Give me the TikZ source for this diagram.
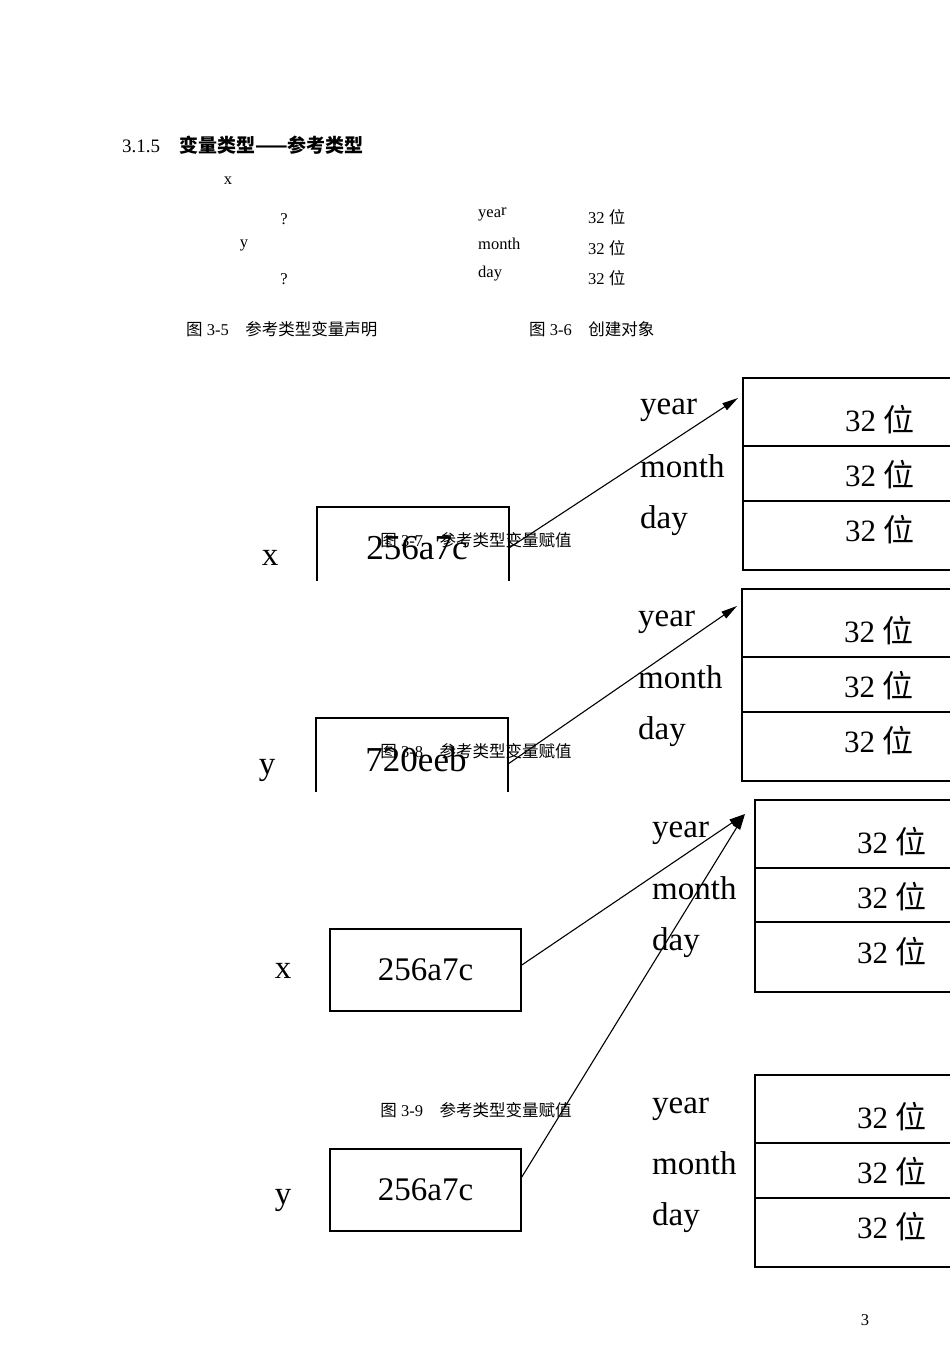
\documentclass[tikz,border=0pt]{standalone}
\usepackage{fontspec}
\setmainfont{Liberation Serif}
\newfontfamily\cjk{Noto Sans CJK SC}
\usetikzlibrary{arrows.meta}
\begin{document}
\begin{tikzpicture}[x=1pt,y=-1pt,
  small/.style={font=\fontsize{16.5}{16.5}\selectfont,inner sep=0pt},
  big/.style={font=\fontsize{33}{33}\selectfont,inner sep=0pt},
  val/.style={font=\fontsize{35}{35}\selectfont,inner sep=0pt},
  bigc/.style={font=\fontsize{31}{31}\selectfont,inner sep=0pt},
  edge/.style={line width=1.6pt},
  ptr/.style={line width=1.1pt,-{Triangle[length=16pt,width=8pt]}}]
\path[use as bounding box] (0,0) rectangle (950,1350);
\fill[white] (0,0) rectangle (950,1350);
\clip (0,0) rectangle (950,1350);
% header
\node[small,anchor=west,font=\fontsize{19}{19}\selectfont] (h) at (122,145) {3.1.5\hspace{1em}{\cjk\bfseries 变量类型——参考类型}};
\node[small] (x0) at (228,181) {x};
\node[small] (q1) at (284,219) {?};
\node[small] (y0) at (244,245) {y};
\node[small] (q2) at (284,279) {?};
\node[small,anchor=west] (yr0) at (478,214) {yea\raisebox{2pt}{r}};
\node[small,anchor=west] (mo0) at (478,244) {month};
\node[small,anchor=west] (dy0) at (478,274) {day};
\foreach \yy/\n in {217/a,248/b,278/c}
  \node[small,anchor=west] (b\n) at (588,\yy) {32 {\cjk 位}};
\node[small,anchor=west] (c5) at (186,329) {{\cjk 图} 3-5\hspace{1em}{\cjk 参考类型变量声明}};
\node[small,anchor=west] (c6) at (529,329) {{\cjk 图} 3-6\hspace{1em}{\cjk 创建对象}};
% ---------- figure 3-7
\draw[edge] (317,581) -- (317,507) -- (509,507) -- (509,581);
\coordinate (bx1) at (509,548);
\node[val] (v1) at (417,548) {256a7c};
\node[big] (lx1) at (270,558) {x};
\draw[edge] (743,378) rectangle (955,570);
\draw[edge] (743,446) -- (955,446) (743,501) -- (955,501);
\node[big,anchor=west] (ly1) at (640,410) {year};
\node[big,anchor=west] (lm1) at (640,466) {month};
\node[big,anchor=west] (ld1) at (640,521) {day};
\foreach \yy/\n in {420/a,475/b,530/c}
  \node[bigc] (t1\n) at (880,\yy) {32 {\cjk 位}};
\coordinate (tg1) at (738,398);
\draw[ptr] (bx1) -- (tg1);
% ---------- figure 3-8
\draw[edge] (316,792) -- (316,718) -- (508,718) -- (508,792);
\coordinate (bx2) at (508,764);
\node[val] (v2) at (416,760) {720eeb};
\node[big] (lx2) at (267,770) {y};
\draw[edge] (742,589) rectangle (955,781);
\draw[edge] (742,657) -- (955,657) (742,712) -- (955,712);
\node[big,anchor=west] (ly2) at (638,622) {year};
\node[big,anchor=west] (lm2) at (638,677) {month};
\node[big,anchor=west] (ld2) at (638,732) {day};
\foreach \yy/\n in {631/a,686/b,741/c}
  \node[bigc] (t2\n) at (879,\yy) {32 {\cjk 位}};
\coordinate (tg2) at (737,606);
\draw[ptr] (bx2) -- (tg2);
% ---------- figure 3-9
\node[draw,edge,minimum width=191pt,minimum height=82pt,font=\fontsize{33}{33}\selectfont] (v3) at (425.5,970) {256a7c};
\node[big] (lx3) at (283,971) {x};
\node[draw,edge,minimum width=191pt,minimum height=82pt,font=\fontsize{33}{33}\selectfont] (v4) at (425.5,1190) {256a7c};
\node[big] (lx4) at (283,1200) {y};
\draw[edge] (755,800) rectangle (955,992);
\draw[edge] (755,868) -- (955,868) (755,922) -- (955,922);
\draw[edge] (755,1075) rectangle (955,1267);
\draw[edge] (755,1143) -- (955,1143) (755,1198) -- (955,1198);
\node[big,anchor=west] (ly3) at (652,833) {year};
\node[big,anchor=west] (lm3) at (652,888) {month};
\node[big,anchor=west] (ld3) at (652,943) {day};
\node[big,anchor=west] (ly4) at (652,1109) {year};
\node[big,anchor=west] (lm4) at (652,1163) {month};
\node[big,anchor=west] (ld4) at (652,1218) {day};
\foreach \yy/\n in {842/a,897/b,952/c}
  \node[bigc] (t3\n) at (892,\yy) {32 {\cjk 位}};
\foreach \yy/\n in {1117/a,1172/b,1227/c}
  \node[bigc] (t4\n) at (892,\yy) {32 {\cjk 位}};
\coordinate (tg3) at (745,814);
\draw[ptr] ([yshift=5pt]v3.east) -- (tg3);
\draw[ptr] ([yshift=13pt]v4.east) -- (tg3);
% captions
\node[small] (c7) at (476,540) {{\cjk 图} 3-7\hspace{1em}{\cjk 参考类型变量赋值}};
\node[small] (c8) at (476,751) {{\cjk 图} 3-8\hspace{1em}{\cjk 参考类型变量赋值}};
\node[small] (c9) at (476,1110) {{\cjk 图} 3-9\hspace{1em}{\cjk 参考类型变量赋值}};
\node[small] (pg) at (865,1320) {3};
\end{tikzpicture}
\end{document}
